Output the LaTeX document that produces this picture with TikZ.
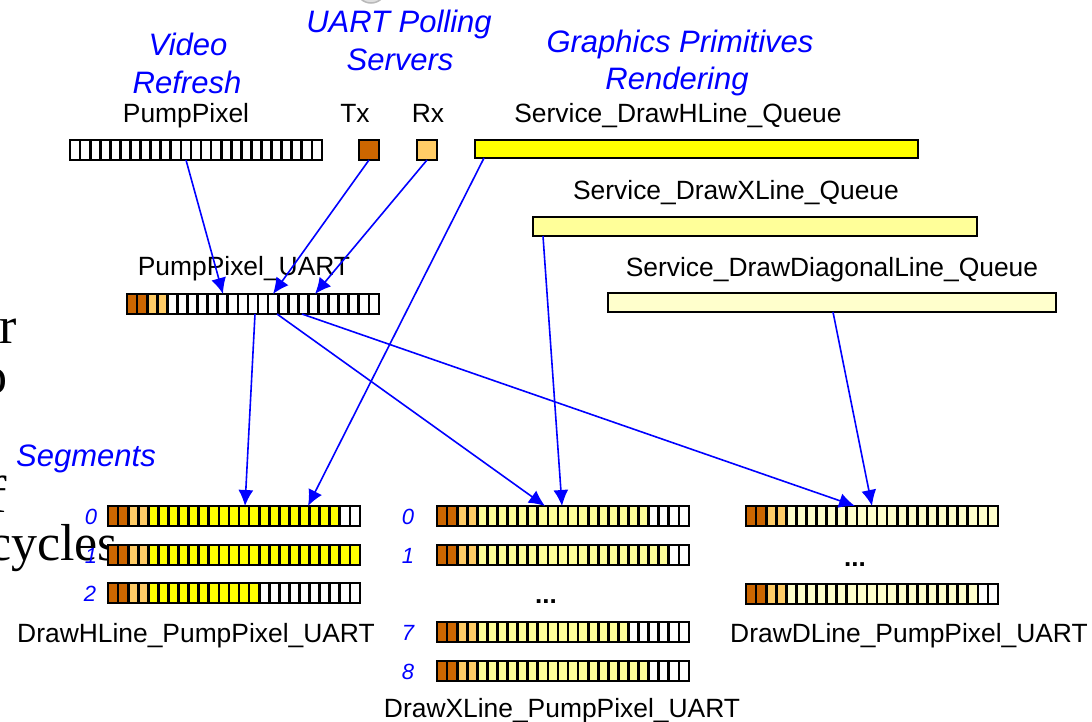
\documentclass[tikz,border=0pt]{standalone}
\usepackage{fontspec}
\setmainfont{Liberation Sans}
\newfontfamily\bgserif{Liberation Serif}
\usetikzlibrary{arrows.meta,calc}
\definecolor{dorange}{HTML}{CC6600}
\definecolor{lorange}{HTML}{FFCC66}
\definecolor{yel}{HTML}{FFFF00}
\definecolor{lyel}{HTML}{FFFF99}
\definecolor{pyel}{HTML}{FFFFCC}
\definecolor{arrblue}{HTML}{0000FF}
\tikzset{
  cellst/.style={draw=black, line width=2.7pt},
  qbar/.style={draw=black, line width=2.2pt, inner sep=0pt, outer sep=0pt, minimum height=19pt, anchor=north west},
  sqbox/.style={draw=black, line width=2.2pt, inner sep=0pt, outer sep=0pt, minimum size=20pt, anchor=north west},
  lbl/.style={inner sep=0pt, anchor=base, font=\fontsize{26.4}{30}\selectfont},
  ttl/.style={inner sep=0pt, anchor=base, text=arrblue, font=\fontsize{31}{37}\selectfont\itshape},
  num/.style={inner sep=0pt, anchor=base, text=arrblue, font=\fontsize{22}{26}\selectfont\itshape},
  dots/.style={inner sep=0pt, anchor=base, font=\fontsize{26}{30}\selectfont\bfseries},
  bgtxt/.style={inner sep=0pt, font=\fontsize{52}{60}\selectfont\bgserif},
  arr/.style={draw=arrblue, line width=1.6pt, -{Latex[length=16pt,width=15pt]}}
}
% name, x, y, end of dark, end of light, end of coloured, colour
\newcommand\cellrow[7]{%
  \node[inner sep=0pt, outer sep=0pt, minimum width=252pt, minimum height=20pt, anchor=north west] (#1) at (#2,#3) {};
  \foreach \i in {0,...,24}{%
    \ifnum\i<#4\relax \def\cc{dorange}\else
      \ifnum\i<#5\relax \def\cc{lorange}\else
        \ifnum\i<#6\relax \def\cc{#7}\else \def\cc{white}\fi\fi\fi
    \filldraw[cellst, fill=\cc] ($(#1.north west)+(\i*10.08,0)$) rectangle ++(10.08,20);
  }%
}
\begin{document}
\begin{tikzpicture}[x=1pt,y=-1pt]
\useasboundingbox (0,0) rectangle (1092,721);
% background fragments
\filldraw[draw=gray!55, fill=gray!25, line width=1.5pt] (371,-12) circle (15);
\node[bgtxt, anchor=base east] (bgr) at (17,343) {r};
\node[bgtxt, anchor=base east] (bgo) at (8,393) {o};
\node[bgtxt, anchor=base east] (bgf) at (7,512) {f};
\node[bgtxt, anchor=base west] (bgc) at (-12,560) {cycles};

% titles
\node[ttl] (vid1) at (188,55) {Video};
\node[ttl] (vid2) at (187,93) {Refresh};
\node[ttl] (uart1) at (399,32) {UART Polling};
\node[ttl] (uart2) at (400,70) {Servers};
\node[ttl] (gfx1) at (680,52) {Graphics Primitives};
\node[ttl] (gfx2) at (677,89) {Rendering};
\node[ttl] (seg) at (86,466) {Segments};

% labels
\node[lbl] (lpp) at (186,122) {PumpPixel};
\node[lbl] (ltx) at (355,122) {Tx};
\node[lbl] (lrx) at (428,122) {Rx};
\node[lbl] (lhq) at (678,122) {Service\_DrawHLine\_Queue};
\node[lbl] (lxq) at (736,199) {Service\_DrawXLine\_Queue};
\node[lbl] (luart) at (244,275) {PumpPixel\_UART};
\node[lbl] (ldq) at (832,276) {Service\_DrawDiagonalLine\_Queue};
\node[lbl] (lh) at (196,642) {DrawHLine\_PumpPixel\_UART};
\node[lbl] (ld) at (909,642) {DrawDLine\_PumpPixel\_UART};
\node[lbl] (lx) at (562,717) {DrawXLine\_PumpPixel\_UART};

% top sources
\cellrow{ppbar}{70}{140}{0}{0}{0}{white}
\node[sqbox, fill=dorange] (tx) at (359,140) {};
\node[sqbox, fill=lorange] (rx) at (417,140) {};
\node[qbar, fill=yel, minimum width=443pt, minimum height=18pt] (hq) at (475,140) {};
\node[qbar, fill=lyel, minimum width=444pt] (xq) at (533,217) {};
\node[qbar, fill=pyel, minimum width=448pt] (dq) at (608,293) {};

% PumpPixel_UART
\cellrow{uart}{127}{294}{2}{4}{4}{white}

% segments: HLine
\cellrow{h0}{108}{506}{2}{4}{23}{yel}
\cellrow{h1}{108}{545}{2}{4}{25}{yel}
\cellrow{h2}{108}{583}{2}{4}{15}{yel}
\node[num] (nh0) at (91,524) {0};
\node[num] (nh1) at (91,563) {1};
\node[num] (nh2) at (90,601) {2};

% segments: XLine
\cellrow{x0}{437}{506}{2}{4}{21}{lyel}
\cellrow{x1}{437}{545}{2}{4}{23}{lyel}
\cellrow{x7}{437}{622}{2}{4}{19}{lyel}
\cellrow{x8}{437}{661}{2}{4}{21}{lyel}
\node[num] (nx0) at (408,524) {0};
\node[num] (nx1) at (408,563) {1};
\node[num] (nx7) at (408,640) {7};
\node[num] (nx8) at (408,679) {8};
\node[dots] (xdots) at (546,603) {...};

% segments: DLine
\cellrow{d0}{746}{506}{2}{4}{25}{pyel}
\cellrow{d2}{746}{584}{2}{4}{23}{pyel}
\node[dots] (ddots) at (855,566) {...};

% connectors
\draw[arr] ([xshift=116pt]ppbar.south west) -- ([xshift=96pt]uart.north west);
\draw[arr] (tx.south) -- ([xshift=146pt]uart.north west);
\draw[arr] (rx.south) -- ([xshift=188pt]uart.north west);
\draw[arr] ([xshift=9pt]hq.south west) -- ([xshift=200pt]h0.north west);
\draw[arr] ([xshift=128pt]uart.south west) -- ([xshift=137pt]h0.north west);
\draw[arr] ([xshift=150pt]uart.south west) -- ([xshift=108pt]x0.north west);
\draw[arr] ([xshift=10pt]xq.south west) -- ([xshift=125pt]x0.north west);
\draw[arr] ([xshift=175pt]uart.south west) -- ([xshift=109pt]d0.north west);
\draw[arr] ([xshift=225pt]dq.south west) -- ([xshift=126pt]d0.north west);
\end{tikzpicture}
\end{document}
